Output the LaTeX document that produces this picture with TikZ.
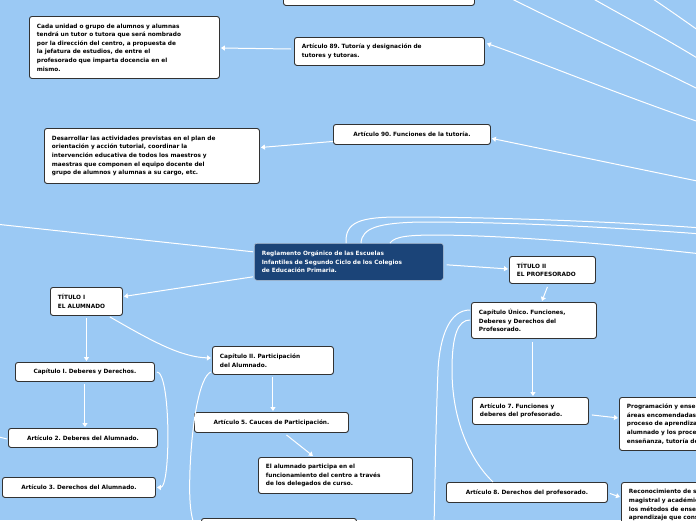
\documentclass[tikz,border=0pt]{standalone}
\usepackage{fontspec}
\setmainfont{DejaVu Sans}
\usetikzlibrary{arrows.meta,calc}
\definecolor{bg}{RGB}{155,201,244}
\definecolor{cenblue}{RGB}{27,68,120}
\definecolor{bord}{RGB}{50,50,50}
\tikzset{
 box/.style={draw=bord, line width=0.9pt, fill=white, rounded corners=2.5pt, anchor=north west, align=left, inner xsep=7.5pt, inner ysep=0pt, font=\fontsize{5.8}{8.6}\selectfont\bfseries\frenchspacing, text=black},
 cbox/.style={box, align=center},
 conn/.style={draw=white, line width=1pt, -{Triangle[length=4pt,width=5pt]}},
 plain/.style={draw=white, line width=1pt},
}
\begin{document}
\frenchspacing
\begin{tikzpicture}[x=1pt,y=-1pt]
\useasboundingbox (0,0) rectangle (696,520);
\clip (0,0) rectangle (696,520);
\fill[bg] (0,0) rectangle (696,520);

% nodes
\node[box,text width=176pt,minimum height=30pt] (top0) at (283,-25) {};
\node[box,text width=175pt,minimum height=62pt] (cada) at (29,16) {Cada unidad o grupo de alumnos y alumnas\\tendrá un tutor o tutora que será nombrado\\por la dirección del centro, a propuesta de\\la jefatura de estudios, de entre el\\profesorado que imparta docencia en el\\mismo.};
\node[box,text width=175pt,minimum height=28pt] (a89) at (294,37) {Artículo 89. Tutoría y designación de\\tutores y tutoras.};
\node[cbox,text width=142pt,minimum height=20pt] (a90) at (333,124) {Artículo 90. Funciones de la tutoría.};
\node[box,text width=200pt,minimum height=55pt] (des) at (44,128) {Desarrollar las actividades previstas en el plan de\\orientación y acción tutorial, coordinar la\\intervención educativa de todos los maestros y\\maestras que componen el equipo docente del\\grupo de alumnos y alumnas a su cargo, etc.};
\node[box,fill=cenblue,draw=white!65!cenblue,line width=0.6pt,text=white,text width=174pt,minimum height=37pt] (cen) at (254,243) {Reglamento Orgánico de las Escuelas\\Infantiles de Segundo Ciclo de los Colegios\\de Educación Primaria.};
\node[box,text width=71pt,minimum height=27pt] (t2) at (509,256) {TÍTULO II\\EL PROFESORADO};
\node[box,text width=110pt,minimum height=36pt] (cu) at (471,302) {Capítulo Único. Funciones,\\Deberes y Derechos del\\Profesorado.};
\node[box,text width=101pt,minimum height=27pt] (a7) at (472,397) {Artículo 7. Funciones y\\deberes del profesorado.};
\node[box,text width=150pt,minimum height=53pt] (prog) at (619,397) {Programación y enseñanza de las\\áreas encomendadas, evaluación del\\proceso de aprendizaje del\\alumnado y los procesos de\\enseñanza, tutoría del alumnado.};
\node[cbox,text width=146pt,minimum height=20pt] (a8) at (446,482) {Artículo 8. Derechos del profesorado.};
\node[box,text width=150pt,minimum height=53pt] (rec) at (621,482) {Reconocimiento de su autoridad\\magistral y académica, libertad en\\los métodos de enseñanza-\\aprendizaje que considere más\\adecuados.};
\node[box,text width=57pt,minimum height=28pt] (t1) at (50,287) {TÍTULO I\\EL ALUMNADO};
\node[box,text width=106pt,minimum height=28pt] (c2) at (212,346) {Capítulo II. Participación\\del Alumnado.};
\node[cbox,text width=124pt,minimum height=19pt] (c1) at (15,362) {Capítulo I. Deberes y Derechos.};
\node[cbox,text width=134pt,minimum height=19pt] (a2) at (8,428) {Artículo 2. Deberes del Alumnado.};
\node[cbox,text width=138pt,minimum height=20pt] (a3) at (2,477) {Artículo 3. Derechos del Alumnado.};
\node[cbox,text width=139pt,minimum height=20pt] (a5) at (194,412) {Artículo 5. Cauces de Participación.};
\node[box,text width=139pt,minimum height=36pt] (alum) at (258,457) {El alumnado participa en el\\funcionamiento del centro a través\\de los delegados de curso.};
\node[box,text width=140pt,minimum height=20pt] (bot) at (201,518) {};

% free ends
\coordinate (tl1) at (508,-3); \coordinate (tr1) at (702,91);
\coordinate (tl2) at (590,-3); \coordinate (tr2) at (702,61);
\coordinate (tl3) at (650,-3); \coordinate (tr3) at (702,33);
\coordinate (e89) at (702,123);
\coordinate (e90) at (702,182);
\coordinate (eL) at (-5,224);
\coordinate (rA) at (702,228);
\coordinate (rB) at (702,234);
\coordinate (rC) at (702,254);
\coordinate (cuB) at (434,528);
\coordinate (eA2) at (-5,436);
\coordinate (eC2) at (196,530);

% connectors
\draw[plain] (tl1) .. controls (580,33) and (640,60) .. (tr1);
\draw[plain] (tl2) .. controls (625,17) and (665,38) .. (tr2);
\draw[plain] (tl3) .. controls (668,9) and (685,21) .. (tr3);
\draw[conn] (e89) .. controls (620,95) and (540,62) .. ($(a89.east)+(2,-8)$);
\draw[conn] ($(a89.north west)+(-3,12)$) -- ($(cada.north east)+(1,32)$);
\draw[conn] (e90) -- ($(a90.east)+(1,4)$);
\draw[conn] ($(a90.west)+(0,7)$) -- ($(des.east)+(1,-8.5)$);
\draw[plain] (eL) -- ($(cen.west)+(-1,-10)$);
\draw[plain] ($(cen.north west)+(92,0)$) .. controls (345,222) and (360,217) .. (400,217) .. controls (500,217) and (620,222) .. (rA);
\draw[plain] ($(cen.north west)+(107,0)$) .. controls (362,228) and (378,223) .. (420,222) .. controls (520,222) and (620,228) .. (rB);
\draw[plain] ($(cen.north west)+(136,0)$) .. controls (395,236) and (410,235) .. (440,235) .. controls (520,236) and (620,245) .. (rC);
\draw[conn] ($(cen.east)+(3,3)$) -- ($(t2.west)+(-1,-1)$);
\draw[conn] ($(t2.south)+(-5,3)$) -- ($(cu.north)+(8,-1)$);
\draw[plain] ($(cu.north west)+(-1,8)$) .. controls (450,310) and (440,335) .. (438,370) .. controls (436,420) and (435,480) .. (cuB);
\draw[plain] ($(cu.north west)+(-1,18)$) .. controls (458,320) and (452,335) .. (452,370) .. controls (452,420) and (470,460) .. ($(a8.north west)+(47,0)$);
\draw[conn] ($(cu.south)+(-1,3)$) -- ($(a7.north)+(2.5,-1)$);
\draw[conn] ($(a7.east)+(3,4)$) -- ($(prog.west)+(-1,-6)$);
\draw[conn] ($(a8.east)+(2,1)$) -- ($(rec.north west)+(-1,15)$);
\draw[conn] ($(cen.west)+(-1,15)$) -- ($(t1.east)+(1,-5)$);
\draw[conn] ($(t1.south)+(0,2)$) -- ($(t1.south|-c1.north)+(0,-1)$);
\draw[conn] ($(t1.south east)+(-13,1)$) .. controls (150,340) and (180,357) .. ($(c2.north west)+(-1,12)$);
\draw[conn] ($(c1.south)+(0,2)$) -- ($(c1.south|-a2.north)+(0,-1)$);
\draw[conn] ($(c1.east)+(2,0)$) .. controls +(14,0) and +(14,0) .. ($(a3.east)+(1,0)$);
\draw[plain] (eA2) -- ($(a2.west)+(-1,1)$);
\draw[conn] ($(c2.south)+(0,2)$) -- ($(c2.south|-a5.north)+(0,-1)$);
\draw[conn] ($(a5.south)+(15,2)$) -- ($(alum.north west)+(55,-1)$);
\draw[plain] ($(c2.north west)+(-1,26)$) .. controls (200,376) and (192,420) .. (190,470) .. controls (189,500) and (190,515) .. (eC2);
\end{tikzpicture}
\end{document}
